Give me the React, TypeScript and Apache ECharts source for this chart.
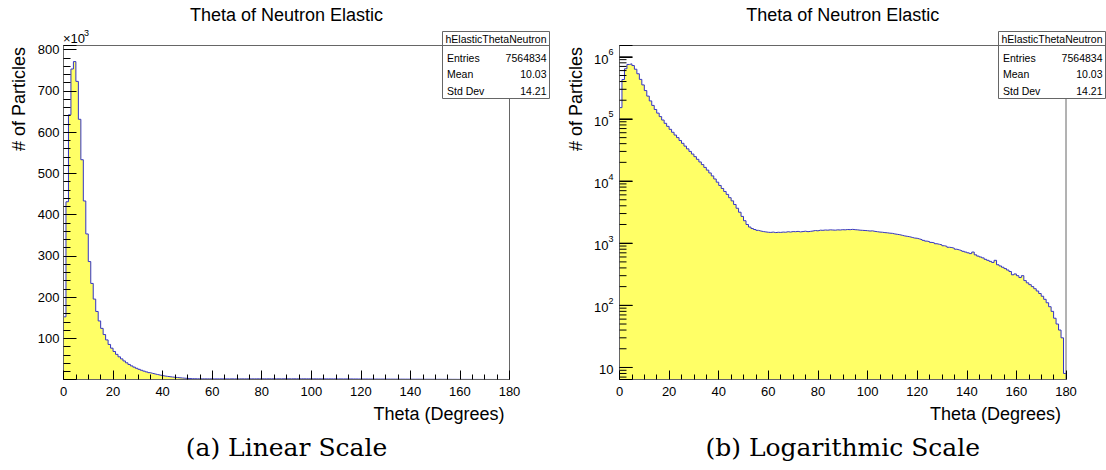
import React, { useEffect, useRef } from 'react';
import * as echarts from 'echarts';

const chartTitle = 'Theta of Neutron Elastic';
const xTitle = 'Theta (Degrees)';
const yTitle = '# of Particles';
const captions = ['(a) Linear Scale', '(b) Logarithmic Scale'];
const histName = 'hElasticThetaNeutron';
const statLabels = ['Entries', 'Mean', 'Std Dev'];
const statValues = ['7564834', '10.03', '14.21'];

const logMajorTicks = [10, 100, 1000, 10000, 100000, 1000000];
const logMinorMultipliers = [2, 3, 4, 5, 6, 7, 8, 9];

// counts per 1-degree bin, theta 0..179
const counts: number[] = [
  152000, 431000, 642000, 753000, 771000, 723000, 631000, 533000, 433000, 353000,
  286000, 233000, 195000, 165000, 142000, 124000, 109000, 96000, 85000, 76000,
  68000, 61000, 55000, 50000, 45000, 40500, 36500, 33000, 30000, 27200,
  24700, 22400, 20300, 18400, 16600, 15000, 13500, 12100, 10800, 9600,
  8500, 7600, 6800, 6100, 5400, 4800, 4200, 3650, 3150, 2700,
  2300, 2000, 1820, 1720, 1660, 1610, 1570, 1540, 1520, 1500,
  1490, 1510, 1480, 1500, 1490, 1510, 1500, 1530, 1510, 1540,
  1530, 1550, 1520, 1540, 1560, 1530, 1550, 1570, 1600, 1580,
  1620, 1610, 1630, 1620, 1640, 1630, 1620, 1640, 1630, 1650,
  1640, 1660, 1650, 1670, 1650, 1640, 1620, 1610, 1600, 1590,
  1570, 1580, 1550, 1530, 1510, 1500, 1480, 1470, 1450, 1440,
  1410, 1390, 1370, 1340, 1310, 1290, 1270, 1240, 1210, 1200,
  1170, 1140, 1110, 1080, 1060, 1030, 1010, 980, 960, 940,
  910, 890, 860, 850, 830, 800, 780, 760, 740, 720,
  700, 680, 720, 650, 620, 600, 580, 550, 530, 510,
  490, 530, 450, 430, 410, 390, 370, 350, 310, 320,
  300, 280, 300, 250, 230, 215, 200, 185, 170, 155,
  140, 125, 110, 95, 80, 62, 50, 40, 30, 8,
];

const FONT = 'Liberation Sans';
const FILL = '#ffff66';
const LINE = '#3434c4';
const FRAME = '#666666';
const TICK = '#000000';

const grids = [
  { left: 63.5, top: 45.5, width: 446, height: 334 },
  { left: 619.5, top: 45.5, width: 446.5, height: 334 },
];
const yMins = [0, 6.4];
const yMaxs = [810000, 1.52e6];

export default function App() {
  const ref = useRef<HTMLDivElement>(null);
  useEffect(() => {
    document.body.style.margin = '0';
    const chart = echarts.init(ref.current!, null, { renderer: 'svg' });
    const data = counts.map((v, i) => [i, v]).concat([[180, counts[counts.length - 1]]]);

    // log-axis minor ticks (2..9 x 10^n), placed through the log scale
    const logMinor: number[][] = [];
    [1].concat(logMajorTicks.slice(0, -1)).forEach((d) => {
      logMinorMultipliers.forEach((m) => {
        const v = m * d;
        if (v > yMins[1] && v < yMaxs[1]) logMinor.push([0, v]);
      });
    });

    const xAxisBase = (gi: number) => ({
      gridIndex: gi,
      type: 'value',
      min: 0,
      max: 180,
      interval: 20,
      axisLine: { show: true, onZero: false, lineStyle: { color: FRAME, width: 1 } },
      axisTick: { show: true, inside: true, length: 9, lineStyle: { color: TICK, width: 1 } },
      minorTick: { show: true, splitNumber: 4, length: 5, lineStyle: { color: TICK, width: 1 } },
      splitLine: { show: false },
      axisLabel: { color: '#000', fontSize: 13, fontFamily: FONT, margin: 5 },
    });

    const tickSeries = (rows: number[][], len: number) => ({
      type: 'custom',
      xAxisIndex: 1,
      yAxisIndex: 1,
      data: rows,
      renderItem: (params: any, api: any) => {
        const p = api.coord([api.value(0), api.value(1)]);
        return { type: 'line', shape: { x1: p[0], y1: p[1], x2: p[0] + len, y2: p[1] }, style: { stroke: TICK, lineWidth: 1 } };
      },
    });

    const option: any = {
      animation: false,
      title: [0, 1].map((k) => ({
        text: chartTitle,
        left: grids[k].left + grids[k].width / 2,
        textAlign: 'center',
        top: 6,
        padding: 0,
        textStyle: { fontSize: 18, fontWeight: 'normal', fontFamily: FONT, color: '#000' },
      })),
      grid: grids.map((g) => ({
        ...g,
        show: true,
        borderColor: FRAME,
        borderWidth: 1,
        backgroundColor: 'transparent',
      })),
      xAxis: [xAxisBase(0), xAxisBase(1)],
      yAxis: [
        {
          gridIndex: 0,
          type: 'value',
          min: yMins[0],
          max: yMaxs[0],
          interval: 100000,
          axisLine: { show: true, lineStyle: { color: FRAME, width: 1 } },
          axisTick: { show: true, inside: true, length: 13, lineStyle: { color: TICK, width: 1 } },
          minorTick: { show: true, splitNumber: 5, length: 7, lineStyle: { color: TICK, width: 1 } },
          splitLine: { show: false },
          axisLabel: {
            color: '#000',
            fontSize: 13,
            fontFamily: FONT,
            margin: 4,
            formatter: (v: number) => (v > 0 && v % 100000 === 0 ? String(v / 1000) : ''),
          },
        },
        {
          gridIndex: 1,
          type: 'log',
          logBase: 10,
          min: yMins[1],
          max: yMaxs[1],
          splitNumber: 6,
          axisLine: { show: true, lineStyle: { color: FRAME, width: 1 } },
          axisTick: { show: true, inside: true, length: 13, lineStyle: { color: TICK, width: 1 } },
          splitLine: { show: false },
          axisLabel: {
            color: '#000',
            fontFamily: FONT,
            margin: 6,
            formatter: (v: number) => {
              const e = Math.log10(v);
              const n = Math.round(e);
              if (Math.abs(e - n) > 1e-6) return '';
              if (n === 1) return '{b|10}';
              return '{b|10}{s|' + n + '}';
            },
            rich: {
              b: { fontSize: 13, fontFamily: FONT, color: '#000', lineHeight: 18, verticalAlign: 'bottom' },
              s: { fontSize: 9, fontFamily: FONT, color: '#000', lineHeight: 10, verticalAlign: 'top' },
            },
          },
        },
      ],
      series: [
        ...[0, 1].map((k) => ({
          type: 'line',
          xAxisIndex: k,
          yAxisIndex: k,
          step: 'end',
          data,
          symbol: 'none',
          showSymbol: false,
          z: -1,
          lineStyle: { color: LINE, width: 1 },
          areaStyle: { color: FILL, opacity: 1, origin: 'start' },
        })),
        tickSeries(logMajorTicks.map((v) => [0, v]), 13),
        tickSeries(logMinor, 7),
      ],
      graphic: [] as any[],
    };

    const g: any[] = option.graphic;
    g.push({ type: 'text', x: 63, y: 38, style: { text: '\u00d710', fontSize: 13, fontFamily: FONT, fill: '#000', align: 'left', verticalAlign: 'middle' } });
    g.push({ type: 'text', x: 84, y: 33, style: { text: '3', fontSize: 9, fontFamily: FONT, fill: '#000', align: 'left', verticalAlign: 'middle' } });

    grids.forEach((gr, k) => {
      const right = gr.left + gr.width;
      g.push({ type: 'text', x: right - 5, y: 414, style: { text: xTitle, fontSize: 18, fontFamily: FONT, fill: '#000', align: 'right', verticalAlign: 'middle' } });
      g.push({ type: 'text', x: k === 0 ? 18.5 : 576, y: 47, rotation: Math.PI / 2, style: { text: yTitle, fontSize: 18, fontFamily: FONT, fill: '#000', align: 'right', verticalAlign: 'middle' } });
      g.push({ type: 'text', x: gr.left + gr.width / 2, y: 447, style: { text: captions[k], fontSize: 25, fontFamily: 'DejaVu Serif', fill: '#000', align: 'center', verticalAlign: 'middle' } });
      const bx = k === 0 ? 442.5 : 998.5;
      const bw = 107;
      g.push({ type: 'rect', z: 20, shape: { x: bx, y: 31.5, width: bw, height: 67 }, style: { fill: '#fff', stroke: FRAME, lineWidth: 1 } });
      g.push({ type: 'line', z: 21, shape: { x1: bx, y1: 45.5, x2: bx + bw, y2: 45.5 }, style: { stroke: FRAME, lineWidth: 1 } });
      g.push({ type: 'text', z: 21, x: bx + bw / 2, y: 38.5, style: { text: histName, fontSize: 10.5, fontFamily: FONT, fill: '#000', align: 'center', verticalAlign: 'middle' } });
      const rowY = [57.5, 74, 90.5];
      statLabels.forEach((lab, i) => {
        g.push({ type: 'text', z: 21, x: bx + 4.5, y: rowY[i], style: { text: lab, fontSize: 10.5, fontFamily: FONT, fill: '#000', align: 'left', verticalAlign: 'middle' } });
        g.push({ type: 'text', z: 21, x: bx + bw - 3, y: rowY[i], style: { text: statValues[i], fontSize: 10.5, fontFamily: FONT, fill: '#000', align: 'right', verticalAlign: 'middle' } });
      });
    });

    chart.setOption(option);
    return () => chart.dispose();
  }, []);
  return <div ref={ref} style={{ width: 1106, height: 470 }} />;
}
